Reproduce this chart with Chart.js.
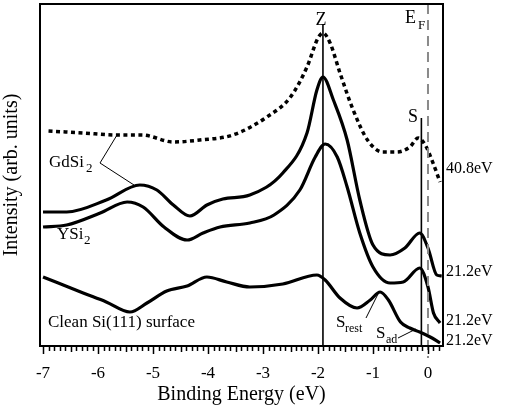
<!DOCTYPE html>
<html>
<head>
<meta charset="utf-8">
<script src="https://cdn.jsdelivr.net/npm/chart.js@4.4.1/dist/chart.umd.min.js"></script>
<style>
  html, body { margin: 0; padding: 0; background: #fff; }
  #wrap { width: 506px; height: 411px; }
</style>
</head>
<body>
<div id="wrap"><canvas id="chart" width="506" height="411"></canvas></div>
<script>
// photoemission spectra, intensity in arbitrary units

// 40.8 eV spectrum (dotted)
const energy408 = [-6.9, -6.27, -5.65, -5.2, -4.63, -4.15, -3.55, -2.93, -2.5, -2.2, -2.0, -1.91, -1.78, -1.6, -1.36, -1.1, -0.82, -0.57, -0.33, -0.18, -0.05, 0.07, 0.22];
const gd408     = [215, 213, 211, 211, 204, 206, 211, 229, 249, 279, 308, 313, 303, 273, 236, 206, 194, 194, 199, 208, 201, 186, 164];

// GdSi2 at 21.2 eV
const energyGd = [-7.0, -6.57, -5.85, -5.24, -4.93, -4.63, -4.33, -4.02, -3.73, -3.24, -2.64, -2.2, -2.02, -1.91, -1.72, -1.47, -1.24, -1.0, -0.69, -0.42, -0.15, 0.0, 0.16, 0.25];
const gdSi2    = [134, 134, 146, 161, 156, 141, 130, 141, 147, 151, 173, 213, 256, 269, 246, 206, 146, 101, 91, 98, 113, 98, 71, 70];

// YSi2 at 21.2 eV
const energyY = [-7.0, -6.57, -5.96, -5.47, -5.18, -4.8, -4.38, -4.09, -3.78, -3.24, -2.8, -2.33, -2.05, -1.87, -1.65, -1.47, -1.24, -1.0, -0.69, -0.45, -0.15, 0.0, 0.1, 0.22];
const ySi2    = [119, 121, 133, 144, 139, 119, 106, 113, 119, 123, 131, 156, 189, 202, 189, 159, 113, 79, 63, 64, 78, 59, 33, 23];

// clean Si(111) at 21.2 eV
const energyClean = [-7.0, -6.27, -5.85, -5.42, -5.11, -4.75, -4.38, -4.02, -3.66, -3.24, -2.64, -2.02, -1.87, -1.6, -1.29, -1.05, -0.87, -0.72, -0.5, -0.33, -0.15, 0.04, 0.22];
const cleanSi     = [69, 53, 44, 34, 43, 55, 60, 69, 64, 59, 62, 71, 66, 48, 38, 46, 54, 46, 24, 18, 14, 9, 3];

// marker lines (eV) and photon-energy labels
const zEnergy  = -1.91;
const sEnergy  = -0.12;
const efEnergy = 0;
const photonLabels = ["40.8eV", "21.2eV", "21.2eV", "21.2eV"];
const photonLabelLevels = [177, 74, 25, 5];

const xTickValues = [-7, -6, -5, -4, -3, -2, -1, 0];

const SERIF = '"Liberation Serif", "DejaVu Serif", serif';

function pts(xs, ys) { return xs.map((x, i) => ({ x: x, y: ys[i] })); }

/* ---------- overlay: frame, ticks, marker lines, labels ---------- */
const overlay = {
    id: 'overlay',
    afterDatasetsDraw(chart) {
        const { ctx, chartArea: a, scales: { x, y } } = chart;
        ctx.save();

        // marker lines Z and S
        ctx.strokeStyle = '#000';
        ctx.lineWidth = 1.6;
        ctx.beginPath();
        ctx.moveTo(x.getPixelForValue(zEnergy), 25);
        ctx.lineTo(x.getPixelForValue(zEnergy), a.bottom);
        ctx.moveTo(x.getPixelForValue(sEnergy), 118);
        ctx.lineTo(x.getPixelForValue(sEnergy), a.bottom);
        ctx.stroke();

        // Fermi level dashed
        ctx.strokeStyle = '#8a8a8a';
        ctx.lineWidth = 2;
        ctx.setLineDash([10, 6]);
        ctx.beginPath();
        ctx.moveTo(x.getPixelForValue(efEnergy), a.top);
        ctx.lineTo(x.getPixelForValue(efEnergy), a.bottom + 12);
        ctx.stroke();
        ctx.setLineDash([]);

        // frame
        ctx.strokeStyle = '#000';
        ctx.lineWidth = 2;
        ctx.strokeRect(a.left, a.top, a.right - a.left, a.bottom - a.top);

        // ticks below x axis (0.1 eV minor, 1 eV major)
        ctx.lineWidth = 1.5;
        ctx.beginPath();
        for (let i = -70; i <= 2; i++) {
            const px = Math.round(x.getPixelForValue(i / 10)) + 0.5;
            const len = (i % 10 === 0) ? 8 : (i % 5 === 0 ? 6 : 5);
            ctx.moveTo(px, a.bottom);
            ctx.lineTo(px, a.bottom + len);
        }
        ctx.stroke();

        // text labels
        ctx.fillStyle = '#000';
        ctx.textBaseline = 'middle';
        const txt = (s, px, py, size, align) => {
            ctx.font = size + 'px ' + SERIF;
            ctx.textAlign = align || 'left';
            ctx.fillText(s, px, py);
        };

        txt('Z', x.getPixelForValue(zEnergy) - 2, 20, 18, 'center');
        txt('E', 405, 18, 18);
        txt('F', 418, 26, 13);
        txt('S', 408, 117, 18);

        txt('GdSi', 49, 163, 17);
        txt('2', 86, 169, 13);
        txt('YSi', 57, 235, 17);
        txt('2', 84, 241, 13);
        txt('Clean Si(111) surface', 48, 323, 17);

        txt('S', 336, 323, 17);
        txt('rest', 345, 329, 12);
        txt('S', 376, 334, 17);
        txt('ad', 386, 340, 12);

        // leader lines
        ctx.lineWidth = 1;
        ctx.beginPath();
        ctx.moveTo(117, 135); ctx.lineTo(100, 163); ctx.lineTo(134, 185);
        ctx.moveTo(366, 318); ctx.lineTo(378, 294);
        ctx.moveTo(398, 338); ctx.lineTo(416, 329);
        ctx.stroke();

        // photon energies on the right
        photonLabels.forEach((s, i) => {
            txt(s, a.right + 3, y.getPixelForValue(photonLabelLevels[i]), 16);
        });

        ctx.restore();
    }
};

const solid = { borderColor: '#000', borderWidth: 3.2, pointRadius: 0, cubicInterpolationMode: 'monotone', fill: false };

new Chart(document.getElementById('chart'), {
    type: 'line',
    data: {
        datasets: [
            { label: 'GdSi2 40.8eV', data: pts(energy408, gd408), borderColor: '#000', borderWidth: 3.5,
              borderDash: [4, 3.5], borderCapStyle: 'butt', pointRadius: 0, cubicInterpolationMode: 'monotone', fill: false },
            Object.assign({ label: 'GdSi2 21.2eV', data: pts(energyGd, gdSi2) }, solid),
            Object.assign({ label: 'YSi2 21.2eV', data: pts(energyY, ySi2) }, solid),
            Object.assign({ label: 'Clean Si(111)', data: pts(energyClean, cleanSi) }, solid)
        ]
    },
    options: {
        responsive: false,
        animation: false,
        events: [],
        layout: { padding: { top: 4, right: 63, left: 0, bottom: 0 } },
        plugins: { legend: { display: false }, tooltip: { enabled: false } },
        scales: {
            x: {
                type: 'linear',
                min: -7.055,
                max: 0.273,
                afterFit: (s) => { s.height = 65; },
                afterBuildTicks: (s) => { s.ticks = xTickValues.map(v => ({ value: v })); },
                grid: { display: false, drawTicks: false },
                border: { display: false },
                ticks: {
                    autoSkip: false, maxRotation: 0, padding: 17,
                    color: '#000', font: { family: SERIF, size: 17 },
                    callback: (v) => String(v)
                },
                title: {
                    display: true, text: 'Binding Energy (eV)', color: '#000',
                    font: { family: SERIF, size: 20 }, padding: { top: 0, bottom: 4 }
                }
            },
            y: {
                min: 0,
                max: 342,
                afterFit: (s) => { s.width = 40; },
                grid: { display: false, drawTicks: false },
                border: { display: false },
                ticks: { display: false },
                title: {
                    display: true, text: 'Intensity (arb. units)', color: '#000',
                    font: { family: SERIF, size: 20 }, padding: { top: 0, bottom: 6 }
                }
            }
        }
    },
    plugins: [overlay]
});
</script>
</body>
</html>
